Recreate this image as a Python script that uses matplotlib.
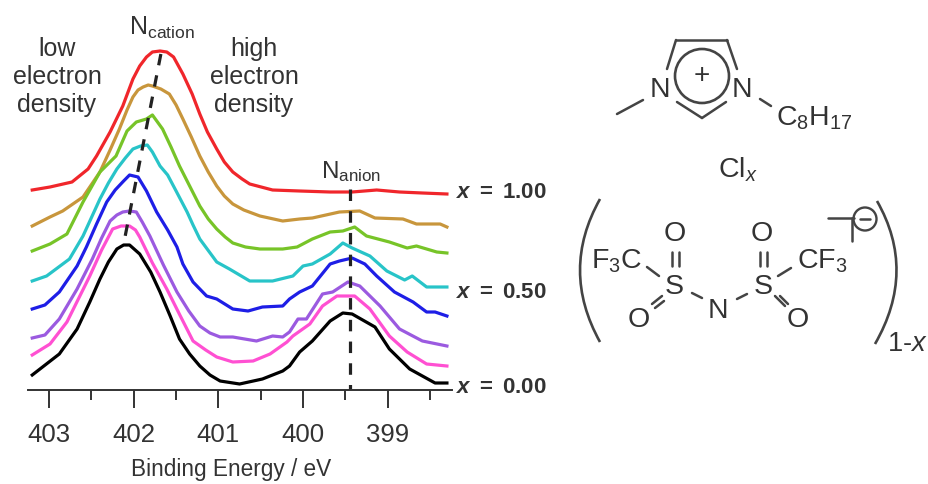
import matplotlib
matplotlib.use("Agg")
import matplotlib.pyplot as plt
from matplotlib.patches import Circle, PathPatch
from matplotlib.path import Path

plt.rcParams['font.family'] = ['Liberation Sans', 'DejaVu Sans']
plt.rcParams['mathtext.fontset'] = 'custom'
plt.rcParams['mathtext.rm'] = 'Liberation Sans'
plt.rcParams['mathtext.it'] = 'Liberation Sans:italic'
plt.rcParams['mathtext.bf'] = 'Liberation Sans:bold'
plt.rcParams['mathtext.bfit'] = 'Liberation Sans:italic:bold'

ink = '#333333'

# spectra: binding energy (eV) and stacked intensity (arb. units)
e_red = [403.20, 402.99, 402.73, 402.54, 402.44, 402.28, 402.13, 402.01, 401.93, 401.85, 401.78, 401.69, 401.61, 401.53, 401.42, 401.31, 401.22, 401.13, 401.02, 400.93, 400.83, 400.72, 400.63, 400.36, 400.04, 399.68, 399.42, 399.13, 398.86, 398.59, 398.30]
i_red = [200, 203, 208, 221, 234, 258, 284, 311, 324, 333, 338, 339, 338, 333, 316, 296, 276, 258, 241, 228, 218, 211, 206, 200, 199, 198, 198, 200, 198, 197, 196]
e_orange = [403.20, 402.99, 402.84, 402.60, 402.40, 402.28, 402.17, 402.08, 402.01, 401.95, 401.89, 401.83, 401.78, 401.68, 401.58, 401.50, 401.42, 401.32, 401.22, 401.12, 401.02, 400.93, 400.83, 400.70, 400.51, 400.24, 400.04, 399.89, 399.57, 399.33, 399.15, 398.82, 398.66, 398.38, 398.30]
i_orange = [164, 173, 179, 193, 218, 240, 261, 280, 293, 300, 303, 305, 304, 301, 296, 285, 271, 253, 234, 218, 204, 194, 186, 180, 174, 169, 171, 172, 178, 179, 172, 171, 166, 166, 163]
e_green = [403.20, 402.99, 402.79, 402.60, 402.40, 402.21, 402.08, 401.97, 401.85, 401.78, 401.66, 401.56, 401.46, 401.34, 401.22, 401.12, 401.02, 400.92, 400.83, 400.68, 400.51, 400.24, 400.07, 399.89, 399.68, 399.53, 399.39, 399.25, 398.98, 398.77, 398.66, 398.42, 398.30]
i_green = [139, 146, 156, 188, 218, 234, 259, 268, 271, 275, 261, 243, 224, 204, 184, 171, 161, 153, 147, 143, 141, 141, 143, 151, 158, 159, 163, 154, 148, 142, 144, 138, 137]
e_cyan = [403.20, 403.03, 402.76, 402.60, 402.40, 402.30, 402.20, 402.10, 402.01, 401.92, 401.84, 401.78, 401.69, 401.60, 401.50, 401.37, 401.30, 401.22, 401.02, 400.87, 400.63, 400.36, 400.12, 400.00, 399.89, 399.68, 399.53, 399.42, 399.21, 399.01, 398.80, 398.71, 398.54, 398.30]
i_cyan = [109, 114, 131, 154, 191, 207, 221, 232, 241, 244, 245, 238, 224, 215, 199, 178, 165, 151, 128, 121, 109, 109, 114, 124, 126, 136, 147, 142, 134, 119, 110, 114, 103, 103]
e_blue = [403.20, 403.05, 402.88, 402.67, 402.56, 402.44, 402.32, 402.22, 402.12, 402.05, 401.95, 401.85, 401.73, 401.60, 401.49, 401.42, 401.30, 401.14, 401.02, 400.83, 400.65, 400.48, 400.24, 400.16, 400.04, 399.89, 399.68, 399.57, 399.42, 399.27, 399.13, 398.92, 398.70, 398.54, 398.44, 398.30]
i_blue = [81, 85, 98, 124, 143, 166, 188, 200, 209, 215, 213, 199, 178, 160, 143, 126, 108, 94, 91, 81, 79, 83, 84, 91, 98, 104, 126, 129, 132, 126, 114, 98, 88, 78, 78, 74]
e_purple = [403.20, 403.05, 402.88, 402.67, 402.49, 402.38, 402.28, 402.20, 402.13, 402.05, 401.97, 401.90, 401.81, 401.65, 401.49, 401.35, 401.22, 401.10, 400.98, 400.83, 400.55, 400.36, 400.24, 400.16, 400.06, 399.96, 399.77, 399.65, 399.47, 399.33, 399.09, 398.86, 398.59, 398.30]
i_purple = [52, 55, 71, 101, 131, 152, 169, 175, 178, 179, 178, 168, 154, 125, 98, 79, 64, 57, 53, 53, 49, 54, 53, 58, 71, 71, 96, 98, 108, 104, 84, 61, 49, 44]
e_magenta = [403.20, 402.99, 402.79, 402.52, 402.38, 402.25, 402.15, 402.05, 401.98, 401.93, 401.78, 401.61, 401.45, 401.30, 401.15, 401.02, 400.83, 400.59, 400.39, 400.19, 400.12, 399.92, 399.77, 399.60, 399.39, 399.21, 398.98, 398.77, 398.54, 398.30]
i_magenta = [35, 46, 68, 114, 140, 161, 164, 164, 160, 153, 127, 101, 74, 49, 40, 33, 28, 29, 36, 48, 54, 66, 84, 94, 94, 81, 54, 38, 26, 24]
e_black = [403.20, 402.88, 402.67, 402.52, 402.40, 402.30, 402.20, 402.12, 402.05, 401.93, 401.80, 401.69, 401.57, 401.46, 401.34, 401.22, 401.10, 400.98, 400.75, 400.48, 400.24, 400.16, 400.04, 399.89, 399.68, 399.53, 399.42, 399.15, 398.98, 398.74, 398.44, 398.30]
i_black = [15, 36, 61, 88, 111, 128, 141, 145, 145, 136, 118, 98, 74, 51, 36, 24, 15, 9, 6, 11, 19, 24, 38, 49, 69, 77, 76, 63, 41, 21, 7, 7]

series = [
    (e_red, i_red, '#f0262b'),
    (e_orange, i_orange, '#c8963c'),
    (e_green, i_green, '#77c428'),
    (e_cyan, i_cyan, '#28c4c8'),
    (e_blue, i_blue, '#1e1ee6'),
    (e_purple, i_purple, '#9b5ae0'),
    (e_magenta, i_magenta, '#ff50d2'),
    (e_black, i_black, '#000000'),
]

cation_e = [401.68, 402.12]
cation_i = [336, 146]
anion_e = [399.44, 399.44]
anion_i = [201, 0]

major_ticks = [403, 402, 401, 400, 399]
minor_ticks = [402.5, 401.5, 400.5, 399.5, 398.5]

fig = plt.figure(figsize=(9.29, 4.85), dpi=100)
ax = fig.add_axes([28 / 929, 94 / 485, 424 / 929, 391 / 485])
ax.set_xlim(403.25, 398.24)
ax.set_ylim(0, 391)
ax.patch.set_alpha(0)
for s in ['top', 'left', 'right']:
    ax.spines[s].set_visible(False)
ax.spines['bottom'].set_color(ink)
ax.spines['bottom'].set_linewidth(1.4)
ax.set_yticks([])
ax.set_xticks(major_ticks)
ax.set_xticks(minor_ticks, minor=True)
ax.tick_params(axis='x', which='major', length=13, width=1.4, color=ink,
               labelcolor=ink, labelsize=18.5, pad=10)
ax.tick_params(axis='x', which='minor', length=7, width=1.4, color=ink)

for e, i, c in series:
    ax.plot(e, i, color=c, lw=2.3, clip_on=False)
ax.plot(cation_e, cation_i, color='#222222', lw=2.3, dashes=(3.6, 3.2))
ax.plot(anion_e, anion_i, color='#222222', lw=2.3, dashes=(3.6, 3.2))

# overlay in image pixels for the labels and the structure sketch
ov = fig.add_axes([0, 0, 1, 1])
ov.set_xlim(0, 929)
ov.set_ylim(485, 0)
ov.axis('off')


def label(x, y, s, size=20.5, ha='center', **kw):
    ov.text(x, y, s, fontsize=size, color=ink, ha=ha, va='center', **kw)


def bond(x0, y0, x1, y1, lw=1.8):
    ov.plot([x0, x1], [y0, y1], color='#444444', lw=lw, solid_capstyle='round')


def paren(x0, y0, cx, cy, x1, y1):
    p = Path([(x0, y0), (cx, cy), (x1, y1)], [Path.MOVETO, Path.CURVE3, Path.CURVE3])
    ov.add_patch(PathPatch(p, fill=False, ec='#444444', lw=1.9))


label(231, 470, 'Binding Energy / eV', size=16.3)
label(57, 77, 'low\nelectron\ndensity', size=18, linespacing=1.2)
label(254, 77, 'high\nelectron\ndensity', size=18, linespacing=1.2)
label(162, 28, r'N$_{\mathrm{cation}}$', size=18)
label(351, 172, r'N$_{\mathrm{anion}}$', size=17.5)

for y, s in [(193, '1.00'), (293, '0.50'), (388, '0.00')]:
    label(456, y, r'$\mathbfit{x}$ $\mathbf{=}$ $\mathbf{' + s + '}$', size=16, ha='left')

# cation
for pts in [(667, 70, 676, 41), (676, 41, 727, 41), (727, 41, 737, 70),
            (677, 103, 702, 119), (702, 119, 726, 103),
            (617, 115, 643, 101), (760, 100, 771, 107)]:
    bond(*pts)
ov.add_patch(Circle((702, 77), 27, fill=False, ec='#444444', lw=1.9))
label(702, 76, '+', size=20)
label(660, 90, 'N')
label(742, 90, 'N')
label(776, 118, r'C$_{8}$H$_{17}$', ha='left')
label(718, 170, r'Cl$_{\mathit{x}}$', ha='left')

# anion
paren(600, 200, 560, 271, 600, 343)
paren(877, 202, 917, 272, 875, 345)
for pts in [(672, 253, 672, 267), (679, 253, 679, 267), (760, 253, 760, 267), (767, 253, 767, 267),
            (647, 268, 659, 277), (692, 294, 702, 299), (737, 300, 747, 295), (778, 277, 791, 269),
            (652, 305, 662, 297), (655, 309, 664, 302), (775, 297, 785, 307), (780, 297, 788, 305),
            (828, 219, 854, 219), (852, 219, 852, 242), (860, 220, 870, 220)]:
    bond(*pts)
ov.add_patch(Circle((865, 220), 11.5, fill=False, ec='#444444', lw=1.7))
label(675, 234, 'O')
label(762, 234, 'O')
label(674, 287, 'S')
label(763, 287, 'S')
label(718, 311, 'N')
label(639, 320, 'O')
label(798, 320, 'O')
label(591, 261, r'F$_{3}$C', ha='left')
label(797, 261, r'CF$_{3}$', ha='left')
label(887, 344, r'1-$\mathit{x}$', size=19.5, ha='left')

fig.savefig('out.png', dpi=100)
